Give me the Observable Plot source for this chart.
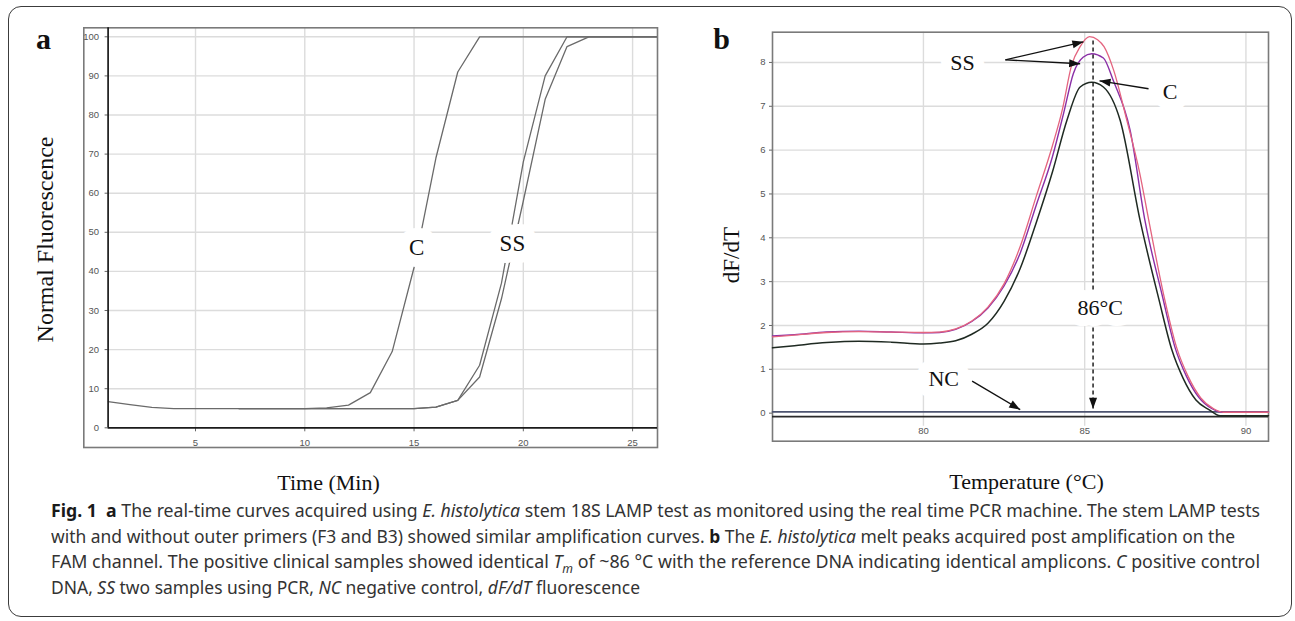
<!DOCTYPE html>
<html><head><meta charset="utf-8">
<script src="https://cdn.jsdelivr.net/npm/d3@7"></script>
<script src="https://cdn.jsdelivr.net/npm/@observablehq/plot@0.6"></script>
<style>
html,body{margin:0;padding:0;background:#fff;}
#page{position:relative;width:1295px;height:621px;overflow:hidden;background:#fff;}
#border{position:absolute;left:8px;top:6px;width:1284px;height:611px;border:1.6px solid #3c3c3c;border-radius:13px;box-sizing:border-box;}
#pa{position:absolute;left:0;top:0;}
#pb{position:absolute;left:680px;top:0;}
#cap{position:absolute;left:51px;top:498px;font-family:"Noto Sans",sans-serif;font-size:17.5px;line-height:25.5px;color:#333;}
#cap .ln{white-space:nowrap;height:25.5px;}
#cap .ln span.t{display:inline-block;transform-origin:0 50%;white-space:nowrap;line-height:20px;}
#cap b{color:#1a1a1a;}
</style></head><body>
<div id="page">
<div id="border"></div>
<div id="pa"></div>
<div id="pb"></div>
<div id="cap">
<div class="ln"><span class="t"><b>Fig. 1</b>&nbsp; <b>a</b> The real-time curves acquired using <i>E. histolytica</i> stem 18S LAMP test as monitored using the real time PCR machine. The stem LAMP tests</span></div>
<div class="ln"><span class="t">with and without outer primers (F3 and B3) showed similar amplification curves. <b>b</b> The <i>E. histolytica</i> melt peaks acquired post amplification on the</span></div>
<div class="ln"><span class="t">FAM channel. The positive clinical samples showed identical <i>T</i><sub style="font-size:12px;line-height:0"><i>m</i></sub> of ~86 °C with the reference DNA indicating identical amplicons. <i>C</i> positive control</span></div>
<div class="ln"><span class="t">DNA, <i>SS</i> two samples using PCR, <i>NC</i> negative control, <i>dF/dT</i> fluorescence</span></div>
</div>
</div>
<script>
// ---------- Panel a data (Time in min, Normal Fluorescence) ----------
const aTime = [1,2,3,4,5,6,7,8,9,10,11,12,13,14,15,16,17,18,19,20,21,22,23,24,25,26,27];
const aC    = [6.7,5.9,5.2,4.9,4.9,4.9,4.9,4.9,4.9,4.9,5.1,5.8,9.0,19.5,41,69,91,100,100,100,100,100,100,100,100,100,100];
const ssTime = [7,8,9,10,11,12,13,14,15,16,17,18,19,20,21,22,23,24,25,26,27];
const aSS1  = [4.9,4.9,4.9,4.9,4.9,4.9,4.9,4.9,4.9,5.3,7.0,16,37,68,90,100,100,100,100,100,100];
const aSS2  = [4.9,4.9,4.9,4.9,4.9,4.9,4.9,4.9,4.9,5.3,7.0,13,33,58,84,97.5,100,100,100,100,100];
const aTicksX = [5,10,15,20,25];
const aTicksY = [0,10,20,30,40,50,60,70,80,90,100];
const aLabels = [{text:"C", t:15.12, v:46.2},{text:"SS", t:19.5, v:47.1}];

// ---------- Panel b data (Temperature °C, dF/dT) ----------
const ss1T = [75.32,76,77,78,79,80,80.5,81,81.5,82,82.5,83,83.5,84,84.3,84.6,84.85,85.15,85.4,85.6,85.9,86.3,86.7,87,87.45,87.85,88.2,88.6,89,89.3,90.7];
const ss1V = [1.74,1.78,1.84,1.86,1.85,1.84,1.85,1.92,2.1,2.42,2.95,3.8,4.95,6.1,6.9,7.95,8.35,8.59,8.52,8.36,7.82,6.7,5.5,4.35,2.7,1.5,0.85,0.35,0.1,0.02,0.02];
const ss2T = [75.32,76,77,78,79,80,80.5,81,81.5,82,82.5,83,83.5,84,84.35,84.65,84.95,85.22,85.58,85.89,86.41,86.87,87.4,87.8,88.15,88.55,88.95,89.25,90.7];
const ss2V = [1.76,1.79,1.85,1.87,1.85,1.83,1.84,1.91,2.09,2.4,2.9,3.65,4.75,5.85,6.85,7.75,8.12,8.2,8.1,7.58,6.45,4.39,2.7,1.5,0.85,0.35,0.1,0.02,0.02];
const cT   = [75.32,76,77,78,79,80,80.5,81,81.5,82,82.5,83,83.5,84,84.45,84.86,85.22,85.58,86.1,86.72,87.3,87.7,88.05,88.45,88.85,89.2,90.7];
const cV   = [1.49,1.54,1.61,1.64,1.62,1.58,1.6,1.65,1.8,2.05,2.55,3.3,4.35,5.5,6.68,7.44,7.55,7.44,6.68,4.39,2.6,1.45,0.8,0.3,0.08,-0.06,-0.06];
const ncT  = [75.32,90.7];
const ncV  = [0.03,0.03];
const bBase = [-0.08];
const bTicksX = [80,85,90];
const bTicksY = [0,1,2,3,4,5,6,7,8];
const bLabels = [{text:"SS", t:81.21, v:7.98},{text:"C", t:87.65, v:7.32},{text:"NC", t:80.63, v:0.78},{text:"86°C", t:85.48, v:2.39}];
const bArrows = [{t1:82.54,v1:8.06,t2:84.96,v2:8.47},{t1:82.54,v1:8.06,t2:84.86,v2:7.97},{t1:86.98,v1:7.40,t2:85.46,v2:7.58},{t1:81.51,v1:0.73,t2:83.0,v2:0.08}];
const bTm = [{t:85.26, v1:8.5, v2:0.1}];

const rows = (xs, ys, s) => xs.map((x,i)=>({x, y: ys[i], s}));
const SERIF = "Liberation Serif, Times New Roman, serif";
const SANS = "Liberation Sans, Arial, sans-serif";
const grid = {stroke:"#dcdcdc", strokeOpacity:1, strokeWidth:1.4};
const halo = {fontFamily: SERIF, fontSize: 22, fill:"#111", stroke:"white", strokeWidth:22, strokeLinejoin:"round", paintOrder:"stroke"};
const title = {fontFamily:SERIF, fill:"#111", textAnchor:"middle", lineAnchor:"middle"};

function fillMarkers(svg){
  svg.querySelectorAll("marker").forEach(m=>{
    const col = m.getAttribute("stroke") || "#111";
    m.setAttribute("viewBox","-12 -6 13 12");
    m.setAttribute("markerUnits","userSpaceOnUse");
    m.setAttribute("markerWidth","13");
    m.setAttribute("markerHeight","12");
    m.setAttribute("fill",col);
    m.setAttribute("stroke","none");
    const p = m.querySelector("path");
    if (p) p.setAttribute("d","M-11,-4L0,0L-11,4Z");
  });
}

// ---------- Panel a ----------
const aData = [...rows(aTime,aC,"C"), ...rows(ssTime,aSS1,"SS1"), ...rows(ssTime,aSS2,"SS2")];
const chartA = Plot.plot({
  width: 680, height: 500,
  marginLeft: 107.6, marginRight: 23, marginTop: 27.3, marginBottom: 72.7,
  x: {domain:[1, 26.14], axis: null, label: null},
  y: {domain:[0, 102.3], axis: null, label: null},
  style: {background:"transparent", overflow:"visible", fontFamily: SANS},
  marks: [
    Plot.gridX(aTicksX, grid),
    Plot.gridY(aTicksY.filter(d=>d>0), grid),
    Plot.frame({stroke:"#7a7a7a", strokeWidth:1.6, insetLeft:-24.3, insetBottom:-19.7}),
    Plot.axisX(aTicksX, {anchor:"bottom", tickSize:4, tickPadding:7, fontSize:9.5, fill:"#555", stroke:"#666", label:null}),
    Plot.axisY(aTicksY, {anchor:"left", tickSize:3, tickPadding:6, fontSize:9.5, fill:"#555", stroke:"#666", label:null}),
    Plot.line(aData, {x:"x", y:"y", z:"s", stroke:"#6a6a6a", strokeWidth:1.3, clip:true}),
    Plot.ruleY([0], {stroke:"#1a1a1a", strokeWidth:1.7}),
    Plot.ruleX([1], {stroke:"#1a1a1a", strokeWidth:1.7}),
    Plot.text(aLabels, {x:"t", y:"v", text:"text", ...halo, fontSize:23, strokeWidth:24}),
    Plot.text(["a"], {frameAnchor:"top-left", dx:-64.6, dy:20.7, ...title, lineAnchor:"bottom", fontWeight:"bold", fontSize:30}),
    Plot.text(["Time (Min)"], {frameAnchor:"bottom", dx:-54.3, dy:55, ...title, fontSize:22}),
    Plot.text(["Normal Fluorescence"], {frameAnchor:"left", rotate:-90, dx:-62.6, dy:11.7, ...title, fontSize:24})
  ]
});
document.getElementById("pa").appendChild(chartA);

// ---------- Panel b ----------
const chartB = Plot.plot({
  width: 615, height: 500,
  marginLeft: 92, marginRight: 27, marginTop: 31.7, marginBottom: 59.3,
  x: {domain:[75.32, 90.7], axis: null, label: null},
  y: {domain:[-0.64, 8.69], axis: null, label: null},
  style: {background:"transparent", overflow:"visible", fontFamily: SANS},
  marks: [
    Plot.gridX(bTicksX, {...grid, y1:-0.3, y2:8.69}),
    Plot.gridY(bTicksY.filter(d=>d>0), grid),
    Plot.frame({stroke:"#7a7a7a", strokeWidth:1.6}),
    Plot.axisX(bTicksX, {anchor:"bottom", tickSize:0, tickPadding:-14, fontSize:9.5, fill:"#555", label:null}),
    Plot.axisY(bTicksY, {anchor:"left", tickSize:3, tickPadding:4, fontSize:9.5, fill:"#555", stroke:"#666", label:null}),
    Plot.ruleY(bBase, {stroke:"#2a2a2a", strokeWidth:1.8}),
    Plot.line(rows(ncT,ncV,"NC"), {x:"x", y:"y", stroke:"#4d5470", strokeWidth:1.6}),
    Plot.line(rows(cT,cV,"C"), {x:"x", y:"y", stroke:"#1f2a22", strokeWidth:1.5, curve:"monotone-x"}),
    Plot.line(rows(ss2T,ss2V,"SS2"), {x:"x", y:"y", stroke:"#8a2fa6", strokeWidth:1.4, curve:"monotone-x"}),
    Plot.line(rows(ss1T,ss1V,"SS1"), {x:"x", y:"y", stroke:"#e4647f", strokeWidth:1.3, curve:"monotone-x"}),
    Plot.link(bTm, {x1:"t", x2:"t", y1:"v1", y2:"v2", stroke:"#111", strokeWidth:1.4, strokeDasharray:"4,3", markerEnd:"arrow"}),
    Plot.text(bLabels, {x:"t", y:"v", text:"text", ...halo}),
    Plot.link(bArrows, {x1:"t1", y1:"v1", x2:"t2", y2:"v2", stroke:"#111", strokeWidth:1.3, markerEnd:"arrow"}),
    Plot.text(["b"], {frameAnchor:"top-left", dx:-51, dy:16.3, ...title, lineAnchor:"bottom", fontWeight:"bold", fontSize:30}),
    Plot.text(["Temperature (°C)"], {frameAnchor:"bottom", dx:6, dy:41, ...title, fontSize:22}),
    Plot.text(["dF/dT"], {frameAnchor:"left", rotate:-90, dx:-41, dy:18.4, ...title, fontSize:23})
  ]
});
fillMarkers(chartB);
document.getElementById("pb").appendChild(chartB);

// ---------- Caption fitting ----------
const capWidths = [1209, 1184, 1209, 589];
document.querySelectorAll("#cap .ln span.t").forEach((s,i)=>{
  const w = s.getBoundingClientRect().width;
  if (w > 0) s.style.transform = `scaleX(${capWidths[i]/w})`;
});
</script>
</body></html>
